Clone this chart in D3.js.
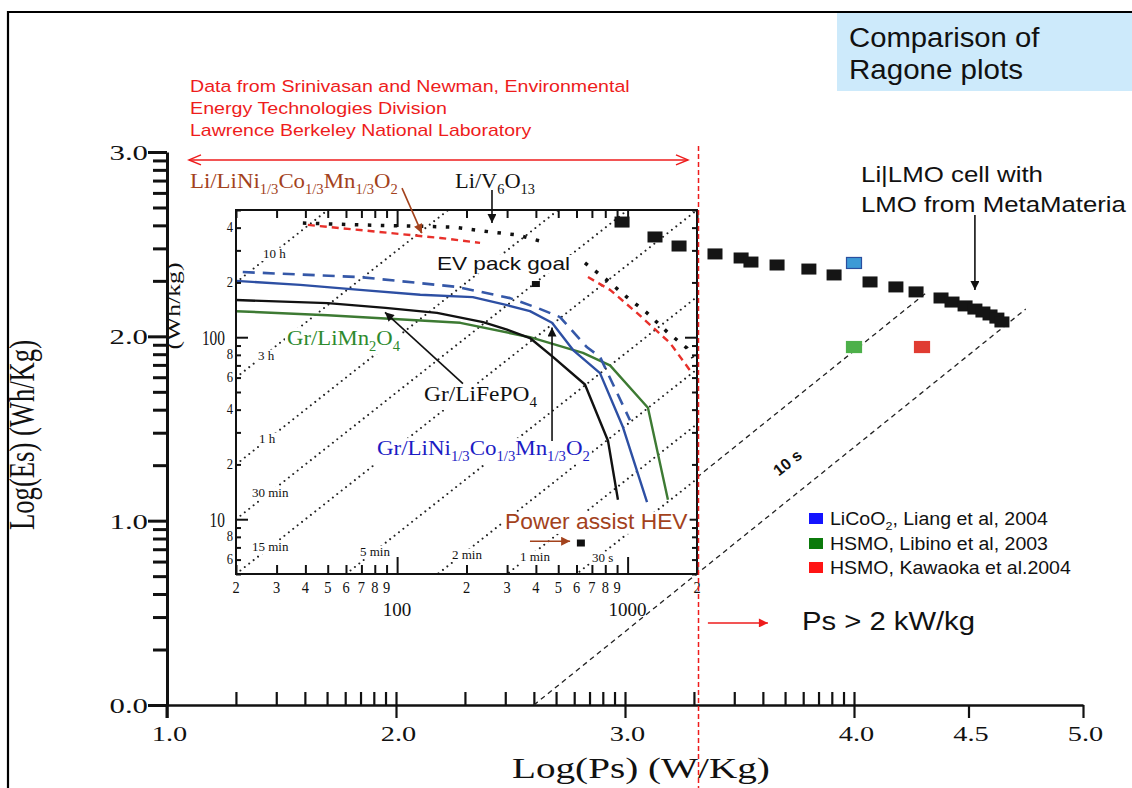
<!DOCTYPE html>
<html>
<head>
<meta charset="utf-8">
<script src="https://cdn.jsdelivr.net/npm/d3@7/dist/d3.min.js"></script>
<style>
  html,body{margin:0;padding:0;background:#fff;}
  svg{display:block;}
</style>
</head>
<body>
<svg id="chart" width="1132" height="788"></svg>
<script>
// ===================== DATA =====================
// main axes (log10 values)
const mainXTickValues = [1.0, 2.0, 3.0, 4.0, 4.5, 5.0];
const mainXTickLabels = ["1.0", "2.0", "3.0", "4.0", "4.5", "5.0"];
const mainYTickValues = [0, 1, 2, 3];
const mainYTickLabels = ["0.0", "1.0", "2.0", "3.0"];

// Li|LMO cell with LMO from MetaMateria : log10(Ps W/kg), log10(Es Wh/kg)
const lmoLogPs = [2.987, 3.131, 3.236, 3.393, 3.507, 3.550, 3.664, 3.803, 3.913, 4.070,
                  4.183, 4.271, 4.380, 4.428, 4.485, 4.528, 4.563, 4.594, 4.624, 4.646];
const lmoLogEs = [2.620, 2.539, 2.490, 2.447, 2.425, 2.403, 2.387, 2.365, 2.333, 2.295,
                  2.268, 2.241, 2.208, 2.186, 2.165, 2.148, 2.132, 2.116, 2.099, 2.078];

// literature points
const litNames = ["LiCoO2, Liang et al, 2004", "HSMO, Libino et al, 2003", "HSMO, Kawaoka et al.2004"];
const litLogPs = [4.0, 4.0, 4.297];
const litLogEs = [2.398, 1.942, 1.942];

// constant-time guide lines in the main plot (seconds) and their log10(Ps) extents
const guideSeconds = [30, 9];
const guideFromLogPs = [3.314, 2.602];
const guideToLogPs = [4.32, 4.75];

// ---- inset (Srinivasan & Newman): Ps in W/kg, Es in Wh/kg ----
const insetXTickValues = [20,30,40,50,60,70,80,90,100,200,300,400,500,600,700,800,900,1000,2000];
const insetYTickValues = [5,6,7,8,9,10,20,30,40,50,60,70,80,90,100,200,300,400,500];
const insetXSmallLabelValues = [20,30,40,50,60,70,80,90,200,300,400,500,600,700,800,900,2000];
const insetXSmallLabels = ["2","3","4","5","6","7","8","9","2","3","4","5","6","7","8","9","2"];
const insetXBigLabelValues = [100, 1000];
const insetXBigLabels = ["100", "1000"];
const insetYSmallLabelValues = [400, 200, 80, 60, 40, 20, 8, 6];
const insetYSmallLabels = ["4", "2", "8", "6", "4", "2", "8", "6"];
const insetYBigLabelValues = [100, 10];
const insetYBigLabels = ["100", "10"];

const timeHours = [10, 3, 1, 0.5, 0.25, 5/60, 2/60, 1/60, 30/3600];
const timeLabels = ["10 h", "3 h", "1 h", "30 min", "15 min", "5 min", "2 min", "1 min", "30 s"];

const grLiFePO4Ps = [20, 50, 89, 149, 236, 300, 377, 474, 653, 822, 908];
const grLiFePO4Es = [160, 154, 145, 136, 121, 110, 99, 78, 55, 27, 12.8];
const grNCMPs = [20, 38, 69, 126, 213, 300, 377, 470, 580, 759, 955, 1214];
const grNCMEs = [204, 194, 182, 171, 166, 150, 139, 120, 85, 63.5, 32, 12.4];
const grNCMDashPs = [21.4, 69, 182, 309, 405, 509, 667, 759, 1024];
const grNCMDashEs = [228, 214, 189, 164, 145, 129, 88, 78, 35];
const grLMOPs = [20, 50, 188, 377, 640, 839, 1225, 1496];
const grLMOEs = [139, 132, 120, 100, 82, 70, 41, 12.8];
const liNCMPsA = [41, 154, 229];
const liNCMEsA = [414, 351, 330];
const liNCMPsB = [673, 839, 1098, 1527, 1903];
const liNCMEsB = [214, 182, 136, 93, 63.5];
const liV6O13PsA = [39, 69, 175, 253, 331, 447];
const liV6O13EsA = [424, 414, 403, 379, 365, 330];
const liV6O13PsB = [653, 814, 993, 1214, 1483, 1810, 1921];
const liV6O13EsB = [256, 206, 166, 136, 107, 87, 77];

const evGoalPs = 400,  evGoalEs = 196;
const hevGoalPs = 627, hevGoalEs = 7.4;

// ===================== RENDER =====================
const svg = d3.select('#chart');
svg.append('rect').attr('width', 1132).attr('height', 788).attr('fill', '#fff');
const defs = svg.append('defs');

const SERIF = "'Liberation Serif','Times New Roman',serif";
const SANS = "'Liberation Sans',Arial,Helvetica,sans-serif";
const BROWN = '#a3421c';
const RED = '#ee1c1c';

// scales
const xm = d3.scaleLinear().domain([1, 5]).range([167, 1083]);
const ym = d3.scaleLinear().domain([0, 3]).range([705, 152]);
const xi = d3.scaleLog().domain([20, 2000]).range([236, 697]);
const yi = d3.scaleLog().domain([5, 500]).range([574, 210]);

function marker(id, color, w, h) {
  defs.append('marker').attr('id', id).attr('viewBox', '0 0 10 10')
    .attr('refX', 10).attr('refY', 5).attr('markerWidth', w).attr('markerHeight', h)
    .attr('markerUnits', 'userSpaceOnUse').attr('orient', 'auto')
    .append('path').attr('d', 'M0,0L10,5L0,10z').attr('fill', color);
}
marker('arrBlack', '#111', 11, 9);
marker('arrBrown', BROWN, 11, 9);
marker('arrRed', RED, 11, 9);

// text helper: parts = ["txt", ["sub","sub"], ...]
function label(parent, o) {
  const size = o.size, sx = o.sx || 1;
  const g = parent.append('g').attr('transform', `translate(${o.x},${o.y}) rotate(${o.rotate || 0})`);
  const t = g.append('text').attr('font-family', o.family || SERIF).attr('font-size', size)
    .attr('fill', o.fill || '#111').attr('font-weight', o.weight || 'normal')
    .attr('text-anchor', o.anchor || 'start');
  let shift = 0;
  (o.parts || [o.text]).forEach(p => {
    const [s, kind] = Array.isArray(p) ? p : [p, null];
    const target = kind === 'sub' ? size * 0.28 : 0;
    t.append('tspan').attr('dy', target - shift).attr('font-size', kind ? size * 0.64 : size).text(s);
    shift = target;
  });
  const w = t.node().getBBox().width;
  const k = o.width ? o.width / w : sx;
  t.attr('transform', `scale(${k},1)`);
  if (o.bg) {
    const bb = t.node().getBBox();
    g.insert('rect', 'text').attr('x', bb.x * k - 2).attr('y', bb.y + size * 0.12)
      .attr('width', bb.width * k + 4).attr('height', bb.height - size * 0.12).attr('fill', '#fff');
  }
  return g;
}

// ---------- frame & title box ----------
svg.append('path').attr('d', 'M8,790V12H1134').attr('fill', 'none').attr('stroke', '#000').attr('stroke-width', 2.2);
svg.append('rect').attr('x', 837).attr('y', 13).attr('width', 300).attr('height', 78).attr('fill', '#cdeafb');
label(svg, {x: 849, y: 47, text: 'Comparison of', size: 27, family: SANS, width: 191});
label(svg, {x: 849, y: 79, text: 'Ragone plots', size: 27, family: SANS, width: 174});

// ---------- red source text + span arrow ----------
label(svg, {x: 190, y: 92, text: 'Data from Srinivasan and Newman, Environmental', size: 17, family: SANS, fill: RED, width: 440});
label(svg, {x: 190, y: 114, text: 'Energy Technologies Division', size: 17, family: SANS, fill: RED, width: 257});
label(svg, {x: 190, y: 136, text: 'Lawrence Berkeley National Laboratory', size: 17, family: SANS, fill: RED, width: 342});
{
  const yA = ym(2.957), x0 = xm(1.096), x1 = xm(3.275);
  svg.append('line').attr('x1', x0).attr('x2', x1).attr('y1', yA).attr('y2', yA).attr('stroke', RED).attr('stroke-width', 1.5);
  svg.append('path').attr('d', `M${x0 + 12},${yA - 5}L${x0},${yA}L${x0 + 12},${yA + 5}`).attr('fill', 'none').attr('stroke', RED).attr('stroke-width', 1.5);
  svg.append('path').attr('d', `M${x1 - 12},${yA - 5}L${x1},${yA}L${x1 - 12},${yA + 5}`).attr('fill', 'none').attr('stroke', RED).attr('stroke-width', 1.5);
}

// ---------- main axes ----------
const minorX = [], minorY = [];
[1, 2, 3].forEach(d => d3.range(2, 10).forEach(k => minorX.push(d + Math.log10(k))));
[0, 1, 2].forEach(d => d3.range(2, 10).forEach(k => minorY.push(d + Math.log10(k))));

const gx = svg.append('g').attr('transform', `translate(0,${ym(0)})`)
  .call(d3.axisBottom(xm).tickValues(mainXTickValues).tickSize(13).tickSizeOuter(0)
    .tickFormat(d => mainXTickLabels[mainXTickValues.indexOf(d)]));
gx.select('.domain').attr('stroke', '#111').attr('stroke-width', 2.5);
gx.selectAll('.tick line').attr('stroke', '#111').attr('stroke-width', 2.2);
gx.selectAll('.tick text').attr('y', 0).attr('dy', 0).attr('fill', '#111')
  .attr('font-family', SERIF).attr('font-size', 21)
  .attr('transform', 'translate(2,36) scale(1.35,1)');

const gx2 = svg.append('g').attr('transform', `translate(0,${ym(0)})`)
  .call(d3.axisBottom(xm).tickValues(minorX.concat([2, 3, 4])).tickSize(-13).tickFormat(''));
gx2.select('.domain').remove();
gx2.selectAll('.tick line').attr('stroke', '#111').attr('stroke-width', 2.2);

const gy = svg.append('g').attr('transform', `translate(${xm(1)},0)`)
  .call(d3.axisLeft(ym).tickValues(mainYTickValues).tickSize(19).tickSizeOuter(0)
    .tickFormat(d => mainYTickLabels[mainYTickValues.indexOf(d)]));
gy.select('.domain').attr('stroke', '#111').attr('stroke-width', 3);
gy.selectAll('.tick line').attr('stroke', '#111').attr('stroke-width', 3);
gy.selectAll('.tick text').attr('x', 0).attr('dy', 0).attr('fill', '#111')
  .attr('font-family', SERIF).attr('font-size', 22)
  .attr('transform', 'translate(-19,7.5) scale(1.4,1)');
svg.append('line').attr('x1', xm(1)).attr('x2', xm(1)).attr('y1', ym(0)).attr('y2', ym(0) + 13)
  .attr('stroke', '#111').attr('stroke-width', 3);

const gy2 = svg.append('g').attr('transform', `translate(${xm(1)},0)`)
  .call(d3.axisLeft(ym).tickValues(minorY).tickSize(14).tickFormat(''));
gy2.select('.domain').remove();
gy2.selectAll('.tick line').attr('stroke', '#111').attr('stroke-width', 3);

label(svg, {x: 34, y: 435, text: 'Log(Es) (Wh/Kg)', size: 36, rotate: -90, anchor: 'middle', width: 190});
label(svg, {x: 512, y: 778, text: 'Log(Ps) (W/Kg)', size: 30, width: 258});

// ---------- main dashed constant-time guides ----------
guideSeconds.forEach((s, i) => {
  const off = Math.log10(s / 3600);
  const p0 = guideFromLogPs[i], p1 = guideToLogPs[i];
  svg.append('path').attr('d', d3.line()([[xm(p0), ym(p0 + off)], [xm(p1), ym(p1 + off)]]))
    .attr('fill', 'none').attr('stroke', '#222').attr('stroke-width', 1.3).attr('stroke-dasharray', '5 4');
});
label(svg, {x: 791, y: 467, text: '10 s', size: 16, family: SANS, weight: 'bold', rotate: -38.8, anchor: 'middle', sx: 1});

// ---------- inset ----------
defs.append('clipPath').attr('id', 'insetClip').append('rect')
  .attr('x', xi(20)).attr('y', yi(500)).attr('width', xi(2000) - xi(20)).attr('height', yi(5) - yi(500));
const inset = svg.append('g');
const gt = inset.append('g').attr('clip-path', 'url(#insetClip)');
timeHours.forEach(t => {
  gt.append('path').attr('d', d3.line()([[xi(20), yi(20 * t)], [xi(2000), yi(2000 * t)]]))
    .attr('fill', 'none').attr('stroke', '#222').attr('stroke-width', 2)
    .attr('stroke-linecap', 'round').attr('stroke-dasharray', '0.01 5.6');
});
const timeLabelPos = [[263, 258], [258, 360], [259, 443], [252, 497], [252, 551], [360, 556], [452, 559], [520, 561], [592, 562]];
timeLabels.forEach((s, i) => label(inset, {x: timeLabelPos[i][0], y: timeLabelPos[i][1], text: s, size: 13, bg: true}));

const lineI = d3.line().x(d => xi(d[0])).y(d => yi(d[1]));
const zip = (a, b) => a.map((v, i) => [v, b[i]]);
function curve(ps, es, color, width, dash, cap) {
  inset.append('path').attr('d', lineI(zip(ps, es))).attr('fill', 'none').attr('stroke', color)
    .attr('stroke-width', width).attr('stroke-dasharray', dash || null)
    .attr('stroke-linejoin', 'round').attr('stroke-linecap', cap || 'butt');
}
curve(grLMOPs, grLMOEs, '#3d7a33', 2.4);
curve(grLiFePO4Ps, grLiFePO4Es, '#111', 2.4);
curve(grNCMPs, grNCMEs, '#2d4fa3', 2.4);
curve(grNCMDashPs, grNCMDashEs, '#3558a8', 2.6, '12 8');
curve(liNCMPsA, liNCMEsA, '#e8302a', 2.4, '7 5');
curve(liNCMPsB, liNCMEsB, '#e8302a', 2.4, '7 5');
curve(liV6O13PsA, liV6O13EsA, '#111', 3.5, '3.5 9.5');
curve(liV6O13PsB, liV6O13EsB, '#111', 3.5, '3.5 9.5');

// inset frame & ticks
inset.append('rect').attr('x', xi(20)).attr('y', yi(500)).attr('width', xi(2000) - xi(20))
  .attr('height', yi(5) - yi(500)).attr('fill', 'none').attr('stroke', '#111').attr('stroke-width', 2);
const isMaj = v => Math.abs(Math.log10(v) - Math.round(Math.log10(v))) < 1e-9;
function insetTicks(axisFn, scale, vals, size, tr) {
  const g = inset.append('g').attr('transform', tr)
    .call(axisFn(scale).tickValues(vals).tickSize(size).tickFormat(''));
  g.select('.domain').remove();
  g.selectAll('.tick line').attr('stroke', '#111').attr('stroke-width', 2);
}
const yMaj = insetYTickValues.filter(isMaj), yMin = insetYTickValues.filter(v => !isMaj(v));
const xMaj = insetXTickValues.filter(isMaj), xMin = insetXTickValues.filter(v => !isMaj(v));
insetTicks(d3.axisRight, yi, yMaj, 12, `translate(${xi(20)},0)`);
insetTicks(d3.axisRight, yi, yMin, 5, `translate(${xi(20)},0)`);
insetTicks(d3.axisLeft, yi, yMaj, 12, `translate(${xi(2000)},0)`);
insetTicks(d3.axisLeft, yi, yMin, 5, `translate(${xi(2000)},0)`);
insetTicks(d3.axisBottom, xi, xMaj, 17, `translate(0,${yi(500)})`);
insetTicks(d3.axisBottom, xi, xMin, 8, `translate(0,${yi(500)})`);
insetTicks(d3.axisTop, xi, xMaj, 17, `translate(0,${yi(5)})`);
insetTicks(d3.axisTop, xi, xMin, 9, `translate(0,${yi(5)})`);

// inset tick labels
insetYSmallLabelValues.forEach((v, i) => label(inset, {x: 233, y: yi(v) + 4.5, text: insetYSmallLabels[i], size: 14, anchor: 'end', sx: 0.9}));
insetYBigLabelValues.forEach((v, i) => label(inset, {x: 225, y: yi(v) + 8, text: insetYBigLabels[i], size: 22, anchor: 'end', sx: 0.7}));
insetXSmallLabelValues.forEach((v, i) => label(inset, {x: xi(v), y: 593, text: insetXSmallLabels[i], size: 16, anchor: 'middle', sx: 0.9}));
insetXBigLabelValues.forEach((v, i) => label(inset, {x: xi(v), y: 616, text: insetXBigLabels[i], size: 19, anchor: 'middle', sx: 1.0}));
label(svg, {x: 180, y: 306, text: '(Wh/kg)', size: 18, rotate: -90, anchor: 'middle', width: 87});

// inset annotations
label(inset, {x: 437, y: 270, text: 'EV pack goal', size: 19, family: SANS, width: 133, bg: true});
label(inset, {x: 287, y: 345, parts: ['Gr/LiMn', ['2', 'sub'], 'O', ['4', 'sub']], size: 22, fill: '#2e8a2e', width: 113, bg: true});
label(inset, {x: 424, y: 401, parts: ['Gr/LiFePO', ['4', 'sub']], size: 22, fill: '#111', width: 113, bg: true});
label(inset, {x: 377, y: 455, parts: ['Gr/LiNi', ['1/3', 'sub'], 'Co', ['1/3', 'sub'], 'Mn', ['1/3', 'sub'], 'O', ['2', 'sub']], size: 22, fill: '#1c1cc4', width: 213, bg: true});
label(inset, {x: 505, y: 529, text: 'Power assist HEV', size: 22, family: SANS, fill: BROWN, width: 183, bg: true});

function arrowI(p0, e0, p1, e1, color, mk) {
  inset.append('line').attr('x1', xi(p0)).attr('y1', yi(e0)).attr('x2', xi(p1)).attr('y2', yi(e1))
    .attr('stroke', color).attr('stroke-width', 1.6).attr('marker-end', `url(#${mk})`);
}
arrowI(193, 55.6, 88.6, 137, '#111', 'arrBlack');
arrowI(470, 26.9, 470, 113, '#111', 'arrBlack');
arrowI(377, 7.57, 563, 7.57, BROWN, 'arrBrown');
arrowI(258, 643, 258, 424, '#111', 'arrBlack');
arrowI(105, 660, 128, 373, BROWN, 'arrBrown');

inset.append('rect').attr('x', xi(evGoalPs) - 4).attr('y', yi(evGoalEs) - 3).attr('width', 8).attr('height', 6).attr('fill', '#111');
inset.append('rect').attr('x', xi(hevGoalPs) - 4).attr('y', yi(hevGoalEs) - 3.5).attr('width', 8).attr('height', 7).attr('fill', '#111');

// labels above the inset
label(svg, {x: 190, y: 188, parts: ['Li/LiNi', ['1/3', 'sub'], 'Co', ['1/3', 'sub'], 'Mn', ['1/3', 'sub'], 'O', ['2', 'sub']], size: 22, fill: BROWN, width: 208});
label(svg, {x: 455, y: 188, parts: ['Li/V', ['6', 'sub'], 'O', ['13', 'sub']], size: 22, fill: '#111', width: 80});

// ---------- red 2 kW/kg boundary ----------
svg.append('line').attr('x1', xm(3.321)).attr('x2', xm(3.321)).attr('y1', 146).attr('y2', 790)
  .attr('stroke', RED).attr('stroke-width', 1.5).attr('stroke-dasharray', '5 3');
svg.append('line').attr('x1', xm(3.362)).attr('x2', xm(3.624)).attr('y1', ym(0.445)).attr('y2', ym(0.445))
  .attr('stroke', RED).attr('stroke-width', 1.6).attr('marker-end', 'url(#arrRed)');
label(svg, {x: 802, y: 630, text: 'Ps > 2 kW/kg', size: 26, family: SANS, width: 173});

// ---------- scatter ----------
const SW = 15, SH = 11;
svg.append('g').selectAll('rect').data(zip(lmoLogPs, lmoLogEs)).join('rect')
  .attr('x', d => xm(d[0]) - SW / 2).attr('y', d => ym(d[1]) - SH / 2)
  .attr('width', SW).attr('height', SH).attr('fill', '#151515');
const litFill = ['#3c9ad6', '#4db04a', '#e03c32'];
const litStroke = ['#2a4e9e', '#4db04a', '#e03c32'];
svg.append('g').selectAll('rect').data(zip(litLogPs, litLogEs)).join('rect')
  .attr('x', d => xm(d[0]) - SW / 2).attr('y', d => ym(d[1]) - SH / 2)
  .attr('width', SW).attr('height', SH)
  .attr('fill', (d, i) => litFill[i]).attr('stroke', (d, i) => litStroke[i]).attr('stroke-width', 1.2);

// ---------- right annotations ----------
label(svg, {x: 861, y: 182, text: 'Li|LMO cell with', size: 22, family: SANS, width: 182});
label(svg, {x: 861, y: 212, text: 'LMO from MetaMateria', size: 22, family: SANS, width: 266});
svg.append('line').attr('x1', xm(4.528)).attr('x2', xm(4.528)).attr('y1', ym(2.658)).attr('y2', ym(2.251))
  .attr('stroke', '#111').attr('stroke-width', 1.6).attr('marker-end', 'url(#arrBlack)');

// legend
const legColors = ['#1414ff', '#0b7a0b', '#ff1414'];
const legY = [513, 538, 562];
const legW = [218, 218, 241];
litNames.forEach((n, i) => {
  svg.append('rect').attr('x', 809).attr('y', legY[i]).attr('width', 14).attr('height', 11).attr('fill', legColors[i]);
  const parts = i === 0 ? ['LiCoO', ['2', 'sub'], ', Liang et al, 2004'] : [n];
  label(svg, {x: 830, y: legY[i] + 6 + 0.35 * 18, parts: parts, size: 18, family: SANS, width: legW[i]});
});
</script>
</body>
</html>
